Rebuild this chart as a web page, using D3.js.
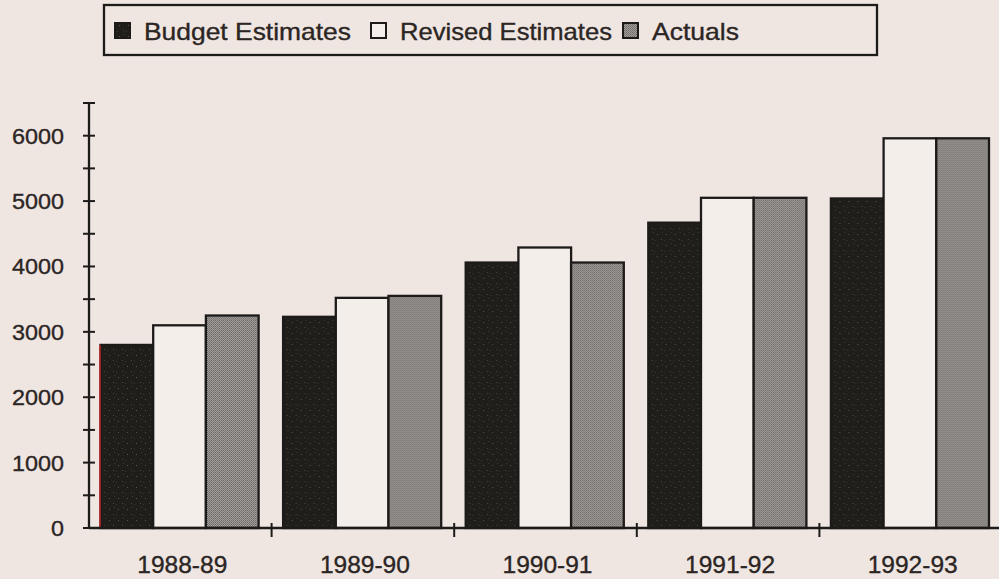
<!DOCTYPE html>
<html>
<head>
<meta charset="utf-8">
<script src="https://cdn.jsdelivr.net/npm/d3@7"></script>
<style>
  html, body { margin: 0; padding: 0; background: #efe6e2; }
  svg { display: block; }
  text { font-family: "Liberation Sans", Arial, sans-serif; fill: #2b2523; stroke: #2b2523; stroke-width: 0.35px; }
</style>
</head>
<body>
<svg id="chart" width="999" height="579"></svg>
<script>
// Fiscal years shown along the x axis
const years = ["1988-89", "1989-90", "1990-91", "1991-92", "1992-93"];
// Series names, in drawing order within each year
const seriesNames = ["Budget Estimates", "Revised Estimates", "Actuals"];
// Values per series
const budgetEstimates  = [2800, 3230, 4060, 4670, 5040];
const revisedEstimates = [3100, 3520, 4290, 5050, 5960];
const actuals          = [3250, 3550, 4060, 5050, 5960];
// Y axis labels
const yTicks = [0, 1000, 2000, 3000, 4000, 5000, 6000];
const yMinorTicks = [500, 1500, 2500, 3500, 4500, 5500, 6500];

const seriesValues = [budgetEstimates, revisedEstimates, actuals];

const W = 999, H = 579;
const svg = d3.select("#chart");
const ink = "#1d1b1a";

// Fill patterns: dark speckled, white, and fine-screen grey
const defs = svg.append("defs");
const dark = defs.append("pattern").attr("id", "darkFill")
  .attr("patternUnits", "userSpaceOnUse").attr("width", 9).attr("height", 11);
dark.append("rect").attr("width", 9).attr("height", 11).attr("fill", "#1f1e1b");
dark.append("rect").attr("x", 2).attr("y", 3).attr("width", 1).attr("height", 1).attr("fill", "#55534c");
dark.append("rect").attr("x", 6).attr("y", 8).attr("width", 1).attr("height", 1).attr("fill", "#4a4842");
dark.append("rect").attr("x", 7).attr("y", 1).attr("width", 1).attr("height", 1).attr("fill", "#3c3a35");
dark.append("rect").attr("x", 0).attr("y", 9).attr("width", 1).attr("height", 1).attr("fill", "#3a3834");

const grey = defs.append("pattern").attr("id", "greyFill")
  .attr("patternUnits", "userSpaceOnUse").attr("width", 2).attr("height", 2);
grey.append("rect").attr("width", 2).attr("height", 2).attr("fill", "#a19d9a");
grey.append("rect").attr("width", 1).attr("height", 1).attr("fill", "#6d6a67");
grey.append("rect").attr("x", 1).attr("y", 1).attr("width", 1).attr("height", 1).attr("fill", "#7c7976");

const fills = ["url(#darkFill)", "#f4eeeb", "url(#greyFill)"];

// Scales
const x0 = d3.scaleBand().domain(years).range([89, 1002]).padding(0);
const x1 = d3.scaleBand().domain(seriesNames)
  .range([11.5, x0.bandwidth() - 13]).padding(0);
const y = d3.scaleLinear().domain([0, 6500]).range([528, 103]);

// Bars
const groups = svg.append("g").selectAll("g").data(years).join("g")
  .attr("transform", d => `translate(${x0(d)},0)`);

groups.selectAll("rect")
  .data((d, i) => seriesNames.map((s, k) => ({ s, k, v: seriesValues[k][i] })))
  .join("rect")
  .attr("x", d => x1(d.s))
  .attr("y", d => y(d.v))
  .attr("width", x1.bandwidth())
  .attr("height", d => y(0) - y(d.v))
  .attr("fill", d => fills[d.k])
  .attr("stroke", ink)
  .attr("stroke-width", 2.3);

// Thin red edge on the first bar
svg.append("line")
  .attr("x1", x0(years[0]) + x1(seriesNames[0]) - 0.5)
  .attr("x2", x0(years[0]) + x1(seriesNames[0]) - 0.5)
  .attr("y1", y(budgetEstimates[0]))
  .attr("y2", y(0))
  .attr("stroke", "#c0282a").attr("stroke-width", 1.5);

// Y axis
const yAxis = svg.append("g").attr("transform", "translate(89,0)");
yAxis.append("line").attr("y1", y(6500)).attr("y2", y(0))
  .attr("stroke", ink).attr("stroke-width", 2.3);
yAxis.selectAll("line.tick").data(yTicks.concat(yMinorTicks)).join("line")
  .attr("class", "tick")
  .attr("x1", -6).attr("x2", 6)
  .attr("y1", d => y(d)).attr("y2", d => y(d))
  .attr("stroke", ink).attr("stroke-width", 2);
yAxis.selectAll("text").data(yTicks).join("text")
  .attr("x", -25).attr("y", d => y(d))
  .attr("dy", "0.36em")
  .attr("text-anchor", "end")
  .attr("font-size", 22)
  .attr("textLength", d => String(d).length * 13)
  .attr("lengthAdjust", "spacingAndGlyphs")
  .text(d => d);

// X axis
const xAxis = svg.append("g");
xAxis.append("line").attr("x1", 89).attr("x2", W)
  .attr("y1", y(0)).attr("y2", y(0))
  .attr("stroke", ink).attr("stroke-width", 2.3);
xAxis.selectAll("line.tick").data(years.slice(1)).join("line")
  .attr("class", "tick")
  .attr("x1", d => x0(d)).attr("x2", d => x0(d))
  .attr("y1", y(0) - 5).attr("y2", y(0) + 9)
  .attr("stroke", ink).attr("stroke-width", 2);
xAxis.selectAll("text").data(years).join("text")
  .attr("x", d => x0(d) + x0.bandwidth() / 2 + 2)
  .attr("y", 573)
  .attr("text-anchor", "middle")
  .attr("font-size", 24)
  .attr("textLength", 90)
  .attr("lengthAdjust", "spacingAndGlyphs")
  .text(d => d);

// Legend
const legend = svg.append("g");
legend.append("rect").attr("x", 104).attr("y", 5).attr("width", 773).attr("height", 50)
  .attr("fill", "none").attr("stroke", ink).attr("stroke-width", 2.3);
const legendX = [115, 371, 623];
const legendW = [207, 212, 87];
seriesNames.forEach((s, k) => {
  legend.append("rect")
    .attr("x", legendX[k]).attr("y", 23).attr("width", 15).attr("height", 15)
    .attr("fill", fills[k]).attr("stroke", ink).attr("stroke-width", 2);
  legend.append("text")
    .attr("x", legendX[k] + 29).attr("y", 40)
    .attr("font-size", 24)
    .attr("textLength", legendW[k])
    .attr("lengthAdjust", "spacingAndGlyphs")
    .text(s);
});
</script>
</body>
</html>
